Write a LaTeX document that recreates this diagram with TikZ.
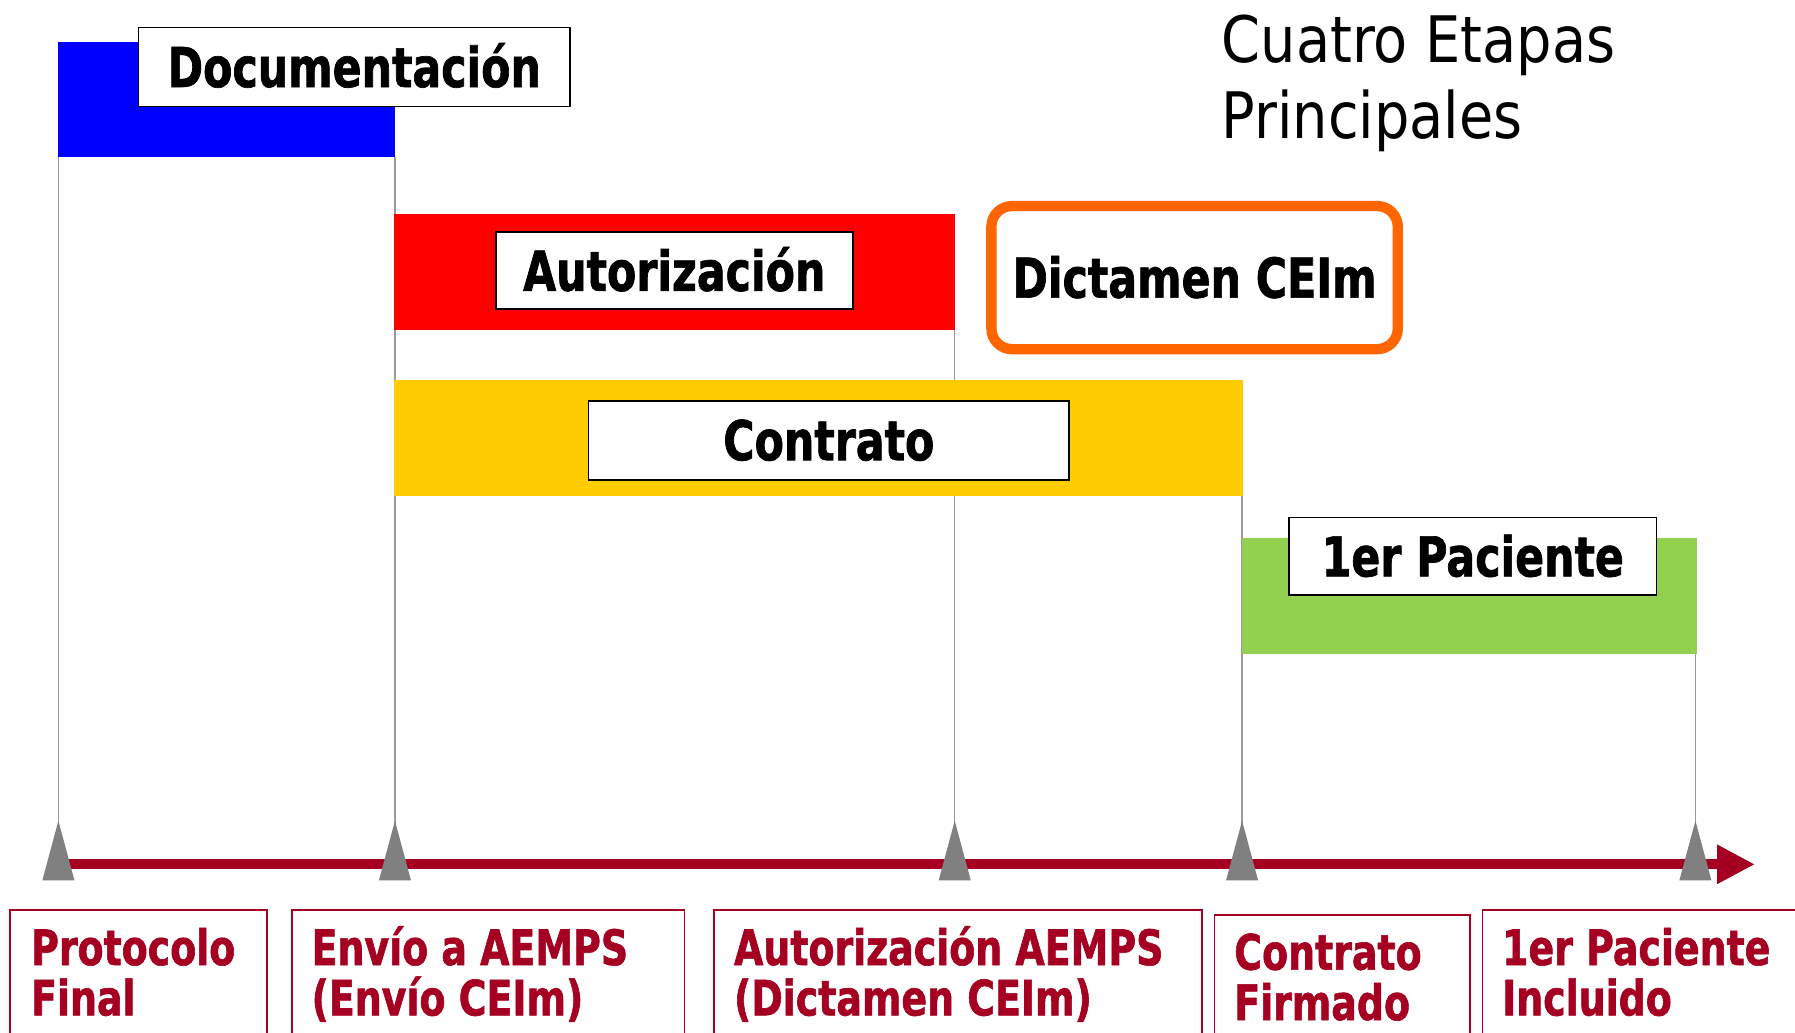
\documentclass[tikz,border=0pt]{standalone}
\usepackage{fontspec}
\newfontfamily\tahb{DejaVu Sans Bold}[FakeStretch=0.777, FakeBold=1.2]
\newfontfamily\tahr{DejaVu Sans}[FakeStretch=0.87]
\usetikzlibrary{arrows.meta,calc}
\definecolor{axred}{HTML}{A50021}
\definecolor{cblue}{HTML}{0000FF}
\definecolor{cred}{HTML}{FF0000}
\definecolor{cyel}{HTML}{FFCC00}
\definecolor{cgreen}{HTML}{92D050}
\definecolor{corange}{HTML}{FF6600}
\definecolor{tgray}{HTML}{808080}
\definecolor{lgray}{HTML}{9A9A9A}
\tikzset{
  vline/.style={draw=lgray, line width=1.3pt},
  lbl/.style={draw=black, line width=1.6pt, fill=white, inner sep=0pt,
    font=\tahb\fontsize{48}{58}\selectfont, text height=35pt, text depth=0pt},
  mbox/.style={draw=axred, line width=1.5pt, fill=none},
  mtext/.style={anchor=base west, inner sep=0pt, text=axred,
    font=\tahb\fontsize{42.6}{50}\selectfont},
  tick/.style={fill=tgray},
}
\begin{document}
\begin{tikzpicture}[x=1pt,y=-1pt]
\useasboundingbox (0,0) rectangle (1568,902);
\fill[white] (0,0) rectangle (1568,902);

% axis positions
\coordinate (a1) at (51,755);
\coordinate (a2) at (345,755);
\coordinate (a3) at (834,755);
\coordinate (a4) at (1085,755);
\coordinate (a5) at (1481,755);
\coordinate (aend) at (1533,755);

% top ends of gray lines
\coordinate (g1) at (51,37);
\coordinate (g2) at (345,137);
\coordinate (g3) at (834,288);
\coordinate (g4) at (1085,433);
\coordinate (g5) at (1481,571);

\draw[vline] (g1) -- (a1);
\draw[vline] (g2) -- (a2);
\draw[vline] (g3) -- (a3);
\draw[vline] (g4) -- (a4);
\draw[vline] (g5) -- (a5);

% bars
\fill[cblue] (51,37) rectangle (345,137);
\fill[cred] (344,187) rectangle (834,288);
\fill[cyel] (344,332) rectangle (1086,433);
\fill[cgreen] (1085,470) rectangle (1482,571);

% labels on bars
\node[lbl, minimum width=377pt, minimum height=69pt] (doc) at (309.5,58.5) {Documentación};
\node[lbl, minimum width=312pt, minimum height=67pt] (aut) at (589,236.5) {Autorización};
\node[lbl, minimum width=420pt, minimum height=69pt] (con) at (724,384.5) {Contrato};
\node[lbl, minimum width=321pt, minimum height=68pt] (pac) at (1286.5,486) {1er Paciente};

% Dictamen CEIm
\node[draw=corange, line width=9pt, rounded corners=18pt, fill=white, inner sep=0pt,
  minimum width=355pt, minimum height=125pt,
  font=\tahb\fontsize{48}{58}\selectfont, text height=35pt, text depth=0pt]
  (dic) at (1043.5,242.5) {Dictamen CEIm};

% title
\node[anchor=base west, inner sep=0pt, font=\tahr\fontsize{56}{66}\selectfont] (t1) at (1067,55) {Cuatro Etapas};
\node[anchor=base west, inner sep=0pt, font=\tahr\fontsize{56}{66}\selectfont] (t2) at (1067,121) {Principales};

% axis
\draw[axred, line width=9pt, -{Triangle[length=33pt,width=32pt]}] (a1) -- (aend);

% ticks
\foreach \c in {a1,a2,a3,a4,a5}{
  \fill[tick] ($(\c)+(0,-38)$) -- ($(\c)+(14,14)$) -- ($(\c)+(-14,14)$) -- cycle;
}

% milestone boxes
\draw[mbox] (9,930) -- (9,795) -- (233,795) -- (233,930);
\draw[mbox] (255,930) -- (255,795) -- (598,795) -- (598,930);
\draw[mbox] (624,930) -- (624,795) -- (1050,795) -- (1050,930);
\draw[mbox] (1061,930) -- (1061,799) -- (1284,799) -- (1284,930);
\draw[mbox] (1295,930) -- (1295,795) -- (1580,795);

\node[mtext] (m1a) at (27,843) {Protocolo};
\node[mtext] (m1b) at (27,887) {Final};
\node[mtext] (m2a) at (272,843) {Envío a AEMPS};
\node[mtext] (m2b) at (272,887) {(Envío CEIm)};
\node[mtext] (m3a) at (641,843) {Autorización AEMPS};
\node[mtext] (m3b) at (641,887) {(Dictamen CEIm)};
\node[mtext] (m4a) at (1078,847) {Contrato};
\node[mtext] (m4b) at (1078,891) {Firmado};
\node[mtext] (m5a) at (1312,843) {1er Paciente};
\node[mtext] (m5b) at (1312,887) {Incluido};
\end{tikzpicture}
\end{document}
